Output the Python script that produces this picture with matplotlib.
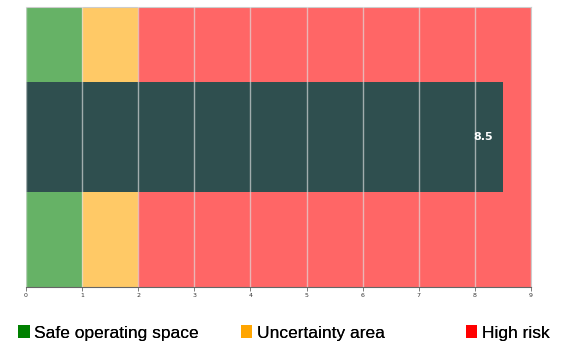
import matplotlib
matplotlib.use("Agg")
import matplotlib.pyplot as plt
from matplotlib.patches import Patch

# zones of the scale and the measured value
zone_names = ["Safe operating space", "Uncertainty area", "High risk"]
zone_edges = [0, 1, 2, 9]
zone_colors = ["#66b266", "#ffc966", "#ff6666"]
legend_colors = ["#008000", "#ffa500", "#ff0000"]
legend_x = [0.0326, 0.4256, 0.8235]
value = 8.5
ticks = list(range(0, 10))

fig = plt.figure(figsize=(5.66, 3.43), dpi=100)
ax = fig.add_axes([0.046, 0.163, 0.892, 0.817])

for i in range(len(zone_names)):
    ax.axvspan(zone_edges[i], zone_edges[i + 1], color=zone_colors[i], lw=0, zorder=1)

ax.barh([0], [value], height=0.393, color="#2f4f4f", zorder=2)
ax.annotate("%g" % value, xy=(value, 0), xytext=(-7, 0), textcoords="offset points",
            ha="right", va="center", color="white", fontsize=8, fontweight="bold", zorder=4)

for t in ticks:
    ax.axvline(t, color="#e0e0e0", lw=1.0, alpha=0.65, zorder=3)

ax.set_xlim(0, 9)
ax.set_ylim(-0.536, 0.464)
ax.set_xticks(ticks)
ax.set_xticklabels([str(t) for t in ticks], fontsize=4.5, color="#333333")
ax.set_yticks([])
ax.tick_params(axis="x", length=3, width=0.6, color="#666666", pad=1)
for side in ["top", "right", "left"]:
    ax.spines[side].set_color("#cccccc")
    ax.spines[side].set_linewidth(0.8)
ax.spines["left"].set_visible(False)
ax.spines["bottom"].set_color("#666666")
ax.spines["bottom"].set_linewidth(0.8)

# one legend per zone so each entry sits at its own spot
for name, col, x in zip(zone_names, legend_colors, legend_x):
    leg = fig.legend([Patch(facecolor=col, edgecolor="none")], [name],
                     loc="center left", bbox_to_anchor=(x, 0.030), frameon=False,
                     handlelength=0.65, handleheight=0.8, handletextpad=0.25,
                     borderpad=0, borderaxespad=0,
                     prop={"family": "Liberation Sans", "size": 12.5})
    fig.add_artist(leg)

fig.savefig("out.png", dpi=100)
